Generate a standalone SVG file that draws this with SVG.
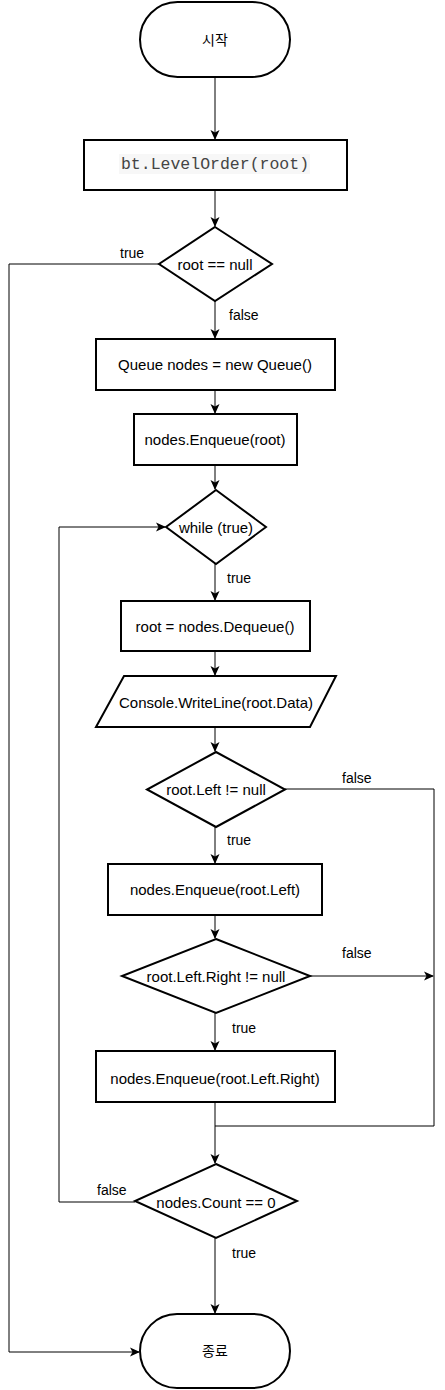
<svg xmlns="http://www.w3.org/2000/svg" width="445" height="1390" viewBox="0 0 445 1390">
<defs>
<marker id="arr" viewBox="0 0 10 10" refX="9" refY="5" markerWidth="10" markerHeight="10" markerUnits="userSpaceOnUse" orient="auto">
<path d="M0,0.5 L10,5 L0,9.5 L2.5,5 z" fill="#000"/>
</marker>
<style>
.shape{fill:#fff;stroke:#000;stroke-width:2}
.conn{fill:none;stroke:#000;stroke-width:1}
.t{font-family:"Liberation Sans",Arial,sans-serif;font-size:15px;fill:#000;text-anchor:middle;dominant-baseline:central}
.lbl{font-family:"Liberation Sans",Arial,sans-serif;font-size:14px;fill:#000}
.k{font-family:"Liberation Sans","Noto Sans CJK KR",sans-serif;font-size:14px;fill:#000;text-anchor:middle;dominant-baseline:central}
.mono{font-family:"Liberation Mono","DejaVu Sans Mono",monospace;font-size:16.5px;fill:#444;text-anchor:middle;dominant-baseline:central}
</style>
</defs>
<rect width="445" height="1390" fill="#fff"/>
<g id="connectors">
<path class="conn" d="M215,77 V139" marker-end="url(#arr)"/>
<path class="conn" d="M215,190 V226" marker-end="url(#arr)"/>
<path class="conn" d="M215,301 V338" marker-end="url(#arr)"/>
<path class="conn" d="M215,390 V413" marker-end="url(#arr)"/>
<path class="conn" d="M215,465 V489" marker-end="url(#arr)"/>
<path class="conn" d="M215,564 V600" marker-end="url(#arr)"/>
<path class="conn" d="M215,651 V675" marker-end="url(#arr)"/>
<path class="conn" d="M215,727 V751" marker-end="url(#arr)"/>
<path class="conn" d="M215,827 V863" marker-end="url(#arr)"/>
<path class="conn" d="M215,915 V938" marker-end="url(#arr)"/>
<path class="conn" d="M215,1013 V1050" marker-end="url(#arr)"/>
<path class="conn" d="M215,1102 V1163" marker-end="url(#arr)"/>
<path class="conn" d="M215,1238 V1313" marker-end="url(#arr)"/>
<path class="conn" d="M159,264 H9 V1352 H139" marker-end="url(#arr)"/>
<path class="conn" d="M285,789 H434 V1126 H215"/>
<path class="conn" d="M310,976 H433" marker-end="url(#arr)"/>
<path class="conn" d="M135,1202 H59 V527 H165" marker-end="url(#arr)"/>
<text class="lbl" x="120" y="258">true</text>
<text class="lbl" x="229" y="320">false</text>
<text class="lbl" x="227" y="583">true</text>
<text class="lbl" x="342" y="783">false</text>
<text class="lbl" x="227" y="845">true</text>
<text class="lbl" x="342" y="958">false</text>
<text class="lbl" x="232" y="1033">true</text>
<text class="lbl" x="97" y="1195">false</text>
<text class="lbl" x="232" y="1258">true</text>
</g>
<g id="start">
<rect class="shape" x="140" y="2" width="150" height="75" rx="37.5" ry="37.5"/>
<text class="k" x="215" y="39.5">시작</text>
</g>
<g id="levelorder">
<rect class="shape" x="84" y="140" width="263" height="50"/>
<rect x="119" y="154" width="191" height="20" fill="#f7f7f7"/>
<text class="mono" x="215" y="164">bt.LevelOrder(root)</text>
</g>
<g id="check-root">
<polygon class="shape" points="215,227 272,264 215,301 159,264"/>
<text class="t" x="215" y="264">root == null</text>
</g>
<g id="new-queue">
<rect class="shape" x="96" y="339" width="239" height="51"/>
<text class="t" x="215" y="364.5">Queue nodes = new Queue()</text>
</g>
<g id="enqueue-root">
<rect class="shape" x="134" y="414" width="163" height="51"/>
<text class="t" x="215" y="439.5">nodes.Enqueue(root)</text>
</g>
<g id="while">
<polygon class="shape" points="216,490 266,527 216,564 166,527"/>
<text class="t" x="216" y="527">while (true)</text>
</g>
<g id="dequeue">
<rect class="shape" x="121" y="601" width="189" height="50"/>
<text class="t" x="215" y="626">root = nodes.Dequeue()</text>
</g>
<g id="writeline">
<polygon class="shape" points="124,676 336,676 310,727 96,727"/>
<text class="t" x="216" y="702">Console.WriteLine(root.Data)</text>
</g>
<g id="check-left">
<polygon class="shape" points="216,752 285,789.5 216,827 147,789.5"/>
<text class="t" x="216" y="789.5">root.Left != null</text>
</g>
<g id="enqueue-left">
<rect class="shape" x="108" y="864" width="214" height="51"/>
<text class="t" x="215" y="889.5">nodes.Enqueue(root.Left)</text>
</g>
<g id="check-left-right">
<polygon class="shape" points="216,939 310,976 216,1013 122,976"/>
<text class="t" x="216" y="976">root.Left.Right != null</text>
</g>
<g id="enqueue-left-right">
<rect class="shape" x="96" y="1051" width="239" height="51"/>
<text class="t" x="215" y="1078">nodes.Enqueue(root.Left.Right)</text>
</g>
<g id="check-count">
<polygon class="shape" points="216,1164 297,1201 216,1238 135,1201"/>
<text class="t" x="216" y="1202">nodes.Count == 0</text>
</g>
<g id="end">
<rect class="shape" x="140" y="1314" width="150" height="74" rx="37" ry="37"/>
<text class="k" x="215" y="1351">종료</text>
</g>
</svg>
